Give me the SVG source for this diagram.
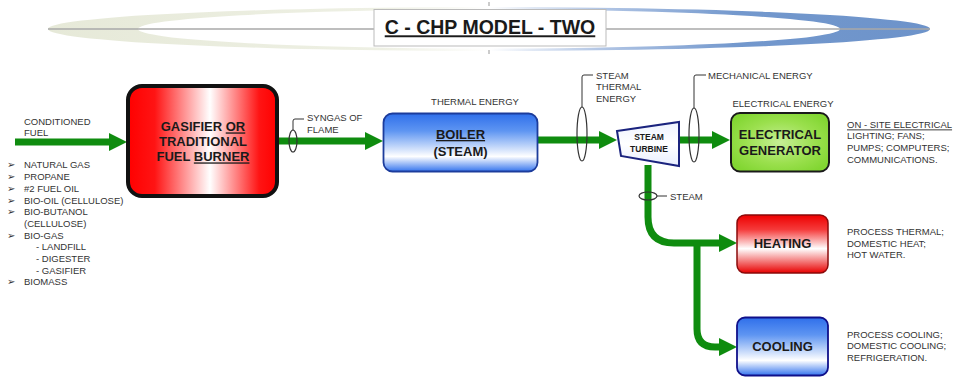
<svg xmlns="http://www.w3.org/2000/svg" width="956" height="377" viewBox="0 0 956 377">
<defs>
  <linearGradient id="band" gradientUnits="userSpaceOnUse" x1="48" y1="0" x2="930" y2="0">
    <stop offset="0" stop-color="#e6e9d8"/>
    <stop offset="0.38" stop-color="#eef0e4"/>
    <stop offset="0.5" stop-color="#ffffff"/>
    <stop offset="0.62" stop-color="#b5c8e6"/>
    <stop offset="0.78" stop-color="#7398cd"/>
    <stop offset="1" stop-color="#6d93ca"/>
  </linearGradient>
  <linearGradient id="redH" x1="0" y1="0" x2="1" y2="0">
    <stop offset="0" stop-color="#ff0000"/>
    <stop offset="0.18" stop-color="#ff1414"/>
    <stop offset="0.55" stop-color="#ffffff"/>
    <stop offset="0.88" stop-color="#ff1414"/>
    <stop offset="1" stop-color="#ff0000"/>
  </linearGradient>
  <linearGradient id="redV" x1="0" y1="0" x2="0" y2="1">
    <stop offset="0" stop-color="#ee0000"/>
    <stop offset="0.25" stop-color="#f53a3a"/>
    <stop offset="0.58" stop-color="#ffffff"/>
    <stop offset="1" stop-color="#e80000"/>
  </linearGradient>
  <linearGradient id="blueV" x1="0" y1="0" x2="0" y2="1">
    <stop offset="0" stop-color="#2f6fea"/>
    <stop offset="0.3" stop-color="#5e95f2"/>
    <stop offset="0.74" stop-color="#ffffff"/>
    <stop offset="1" stop-color="#3474ee"/>
  </linearGradient>
  <radialGradient id="greenR" cx="0.5" cy="0.5" r="0.6">
    <stop offset="0" stop-color="#c6ee96"/>
    <stop offset="0.6" stop-color="#9be04e"/>
    <stop offset="1" stop-color="#82d632"/>
  </radialGradient>
  <linearGradient id="turb" x1="0" y1="0" x2="0" y2="1">
    <stop offset="0" stop-color="#eef3ff"/>
    <stop offset="0.5" stop-color="#ffffff"/>
    <stop offset="1" stop-color="#e8eeff"/>
  </linearGradient>
  <marker id="ah" markerUnits="userSpaceOnUse" markerWidth="18" markerHeight="18" refX="6" refY="9" orient="auto">
    <path d="M0,0 L18,9 L0,18 z" fill="#0f8c0f"/>
  </marker>
</defs>
<style>
  .t{font-family:"Liberation Sans",Arial,sans-serif;font-size:9.5px;fill:#333}
  .b{font-family:"Liberation Sans",Arial,sans-serif;font-weight:bold;font-size:13px;fill:#1a1a1a;text-anchor:middle}
  .g{fill:none;stroke:#0f8c0f;stroke-width:7}
  .lead{fill:none;stroke:#333;stroke-width:1}
  .ring{fill:none;stroke:#333;stroke-width:1.2}
  .bul{font-family:"DejaVu Sans",sans-serif;font-size:10px;fill:#333}
  .u{text-decoration:underline}
</style>
<rect width="956" height="377" fill="#ffffff"/>

<g id="title">
  <path d="M48,29 A441,22 0 1,0 930,29 A441,22 0 1,0 48,29 Z M138,29 A351,19.5 0 1,1 840,29 A351,19.5 0 1,1 138,29 Z" fill="url(#band)" fill-rule="evenodd"/>
  <line x1="48" y1="29" x2="930" y2="29" stroke="#a8a8a8" stroke-width="1.5"/>
  <line x1="489" y1="2" x2="489" y2="6" stroke="#999" stroke-width="1"/>
  <line x1="489" y1="50" x2="489" y2="54" stroke="#999" stroke-width="1"/>
  <rect x="374" y="9.5" width="232" height="36.5" fill="#ffffff" stroke="#bbbbbb" stroke-width="1"/>
  <text x="490" y="34.3" text-anchor="middle" font-family="'Liberation Sans',Arial,sans-serif" font-weight="bold" font-size="19.5" fill="#1a1a1a" class="u">C - CHP MODEL - TWO</text>
</g>

<g id="connectors">
  <path class="g" d="M15,142 H115" marker-end="url(#ah)"/>
  <path class="g" d="M278,141 H371" marker-end="url(#ah)"/>
  <path class="g" d="M538,140 H605" marker-end="url(#ah)"/>
  <path class="g" d="M679,140 H718" marker-end="url(#ah)"/>
  <path class="g" d="M648,165 V217 Q648,243 674,243 H725" marker-end="url(#ah)"/>
  <path class="g" d="M697,243 V329 Q697,347 715,347 H725" marker-end="url(#ah)"/>
  <ellipse class="ring" cx="293" cy="141" rx="4" ry="11"/>
  <path class="lead" d="M293,130 V121 Q293,119 295,119 H304"/>
  <ellipse class="ring" cx="582" cy="134" rx="5" ry="27"/>
  <path class="lead" d="M582,107 V77 Q582,75 584,75 H593"/>
  <ellipse class="ring" cx="694" cy="135" rx="5" ry="27"/>
  <path class="lead" d="M694,108 V77 Q694,75 696,75 H706"/>
  <ellipse class="ring" cx="648" cy="196" rx="9" ry="4"/>
  <path class="lead" d="M657,196 H667"/>
</g>

<g id="labels">
  <text class="t" x="24" y="125">CONDITIONED</text>
  <text class="t" x="24" y="136">FUEL</text>
  <text class="t" x="307" y="120.5">SYNGAS OF</text>
  <text class="t" x="307" y="132.5">FLAME</text>
  <text class="t" x="475" y="105" text-anchor="middle">THERMAL ENERGY</text>
  <text class="t" x="596" y="78.5">STEAM</text>
  <text class="t" x="596" y="90">THERMAL</text>
  <text class="t" x="596" y="101.7">ENERGY</text>
  <text class="t" x="708" y="78.5">MECHANICAL ENERGY</text>
  <text class="t" x="783" y="106.5" text-anchor="middle">ELECTRICAL ENERGY</text>
  <text class="t" x="670" y="199.5">STEAM</text>
</g>

<g id="fuel-list">
  <text class="bul" x="7" y="168.4">➢</text><text class="t" x="24" y="168.4">NATURAL GAS</text>
  <text class="bul" x="7" y="180.1">➢</text><text class="t" x="24" y="180.1">PROPANE</text>
  <text class="bul" x="7" y="191.8">➢</text><text class="t" x="24" y="191.8">#2 FUEL OIL</text>
  <text class="bul" x="7" y="203.5">➢</text><text class="t" x="24" y="203.5">BIO-OIL (CELLULOSE)</text>
  <text class="bul" x="7" y="215.2">➢</text><text class="t" x="24" y="215.2">BIO-BUTANOL</text>
  <text class="t" x="24" y="226.9">(CELLULOSE)</text>
  <text class="bul" x="7" y="238.6">➢</text><text class="t" x="24" y="238.6">BIO-GAS</text>
  <text class="t" x="36" y="250.3">- LANDFILL</text>
  <text class="t" x="36" y="262">- DIGESTER</text>
  <text class="t" x="36" y="273.7">- GASIFIER</text>
  <text class="bul" x="7" y="285.4">➢</text><text class="t" x="24" y="285.4">BIOMASS</text>
</g>

<g id="gasifier">
  <rect x="128" y="86" width="149" height="110" rx="14" fill="url(#redH)" stroke="#111" stroke-width="4"/>
  <text class="b" x="203" y="131.4">GASIFIER <tspan class="u">OR</tspan></text>
  <text class="b" x="203" y="146.4">TRADITIONAL</text>
  <text class="b" x="203" y="161.4">FUEL <tspan class="u">BURNER</tspan></text>
</g>

<g id="boiler">
  <rect x="383.5" y="113.5" width="154" height="58" rx="9" fill="url(#blueV)" stroke="#1c3c9c" stroke-width="1.8"/>
  <text class="b u" x="460.5" y="139">BOILER</text>
  <text class="b" x="460.5" y="155.7">(STEAM)</text>
</g>

<g id="turbine">
  <polygon points="617,131 679,122 679,166 621,156" fill="url(#turb)" stroke="#1a237e" stroke-width="2"/>
  <text class="b" x="649" y="140.3" style="font-size:8.5px">STEAM</text>
  <text class="b" x="649" y="152.3" style="font-size:8.5px">TURBINE</text>
</g>

<g id="generator">
  <rect x="731" y="113" width="98" height="58.5" rx="9" fill="url(#greenR)" stroke="#1a1a1a" stroke-width="2"/>
  <text class="b" x="780" y="138.7">ELECTRICAL</text>
  <text class="b" x="780" y="154.7">GENERATOR</text>
</g>

<g id="electrical-uses">
  <text class="t u" x="847" y="128.4">ON - SITE ELECTRICAL</text>
  <text class="t" x="847" y="139.4">LIGHTING; FANS;</text>
  <text class="t" x="847" y="150.8">PUMPS; COMPUTERS;</text>
  <text class="t" x="847" y="163.4">COMMUNICATIONS.</text>
</g>

<g id="heating">
  <rect x="737" y="215" width="91" height="58" rx="8" fill="url(#redV)" stroke="#8b0a0a" stroke-width="1.5"/>
  <text class="b" x="782.5" y="247.7">HEATING</text>
</g>
<g id="heating-uses">
  <text class="t" x="847" y="235">PROCESS THERMAL;</text>
  <text class="t" x="847" y="246.7">DOMESTIC HEAT;</text>
  <text class="t" x="847" y="258.4">HOT WATER.</text>
</g>

<g id="cooling">
  <rect x="737" y="317.5" width="91" height="58" rx="8" fill="url(#blueV)" stroke="#10108a" stroke-width="1.8"/>
  <text class="b" x="782.5" y="351.4">COOLING</text>
</g>
<g id="cooling-uses">
  <text class="t" x="847" y="337.7">PROCESS COOLING;</text>
  <text class="t" x="847" y="349.4">DOMESTIC COOLING;</text>
  <text class="t" x="847" y="361">REFRIGERATION.</text>
</g>
</svg>
